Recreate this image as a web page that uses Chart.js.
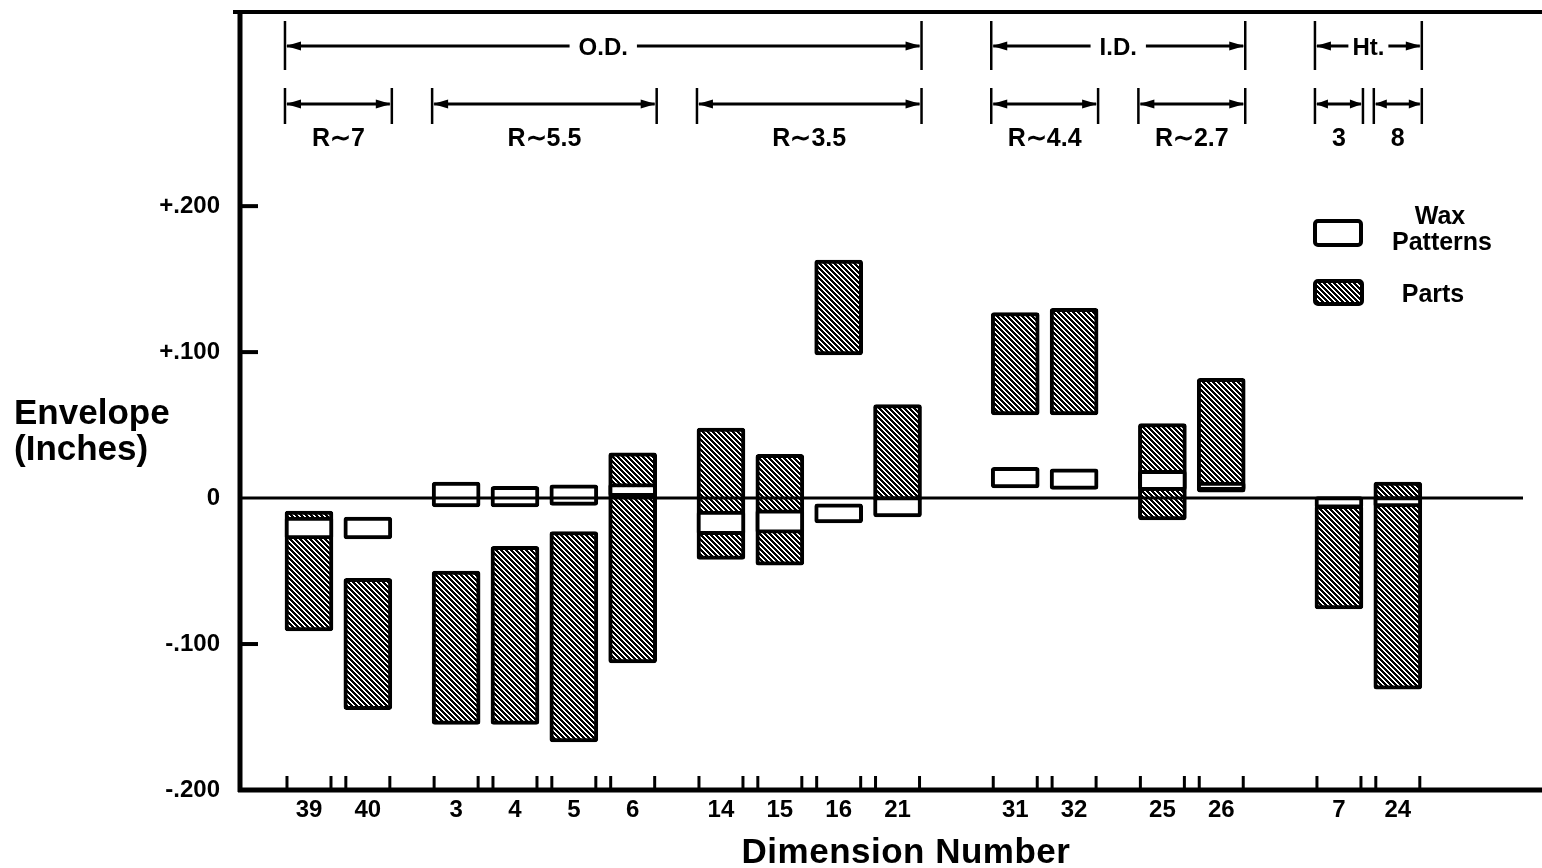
<!DOCTYPE html>
<html><head><meta charset="utf-8">
<script src="https://cdn.jsdelivr.net/npm/chart.js@4/dist/chart.umd.min.js"></script>
<style>html,body{margin:0;padding:0;background:#fff;}#wrap{width:1542px;height:868px;position:relative;}</style>
</head><body><div id="wrap"><canvas id="c" width="1542" height="868"></canvas></div>
<script>
// ---------------- DATA ----------------
const dimensions = ['39','40','3','4','5','6','14','15','16','21','31','32','25','26','7','24'];
const waxLow    = [-0.028,-0.028,-0.006,-0.006,-0.005, 0.001,-0.025,-0.024,-0.017,-0.013, 0.007, 0.006, 0.005, 0.005,-0.007,-0.006];
const waxHigh   = [-0.013,-0.013, 0.011, 0.008, 0.009, 0.010,-0.009,-0.008,-0.004, 0.001, 0.021, 0.020, 0.019, 0.011, 0.001, 0.001];
const partsLow  = [-0.091,-0.145,-0.155,-0.155,-0.167,-0.113,-0.042,-0.046, 0.098,-0.002, 0.057, 0.057,-0.015, 0.004,-0.076,-0.131];
const partsHigh = [-0.009,-0.055,-0.050,-0.033,-0.023, 0.031, 0.048, 0.030, 0.163, 0.064, 0.127, 0.130, 0.051, 0.082,-0.005, 0.011];
const yTickValues = [-0.2, -0.1, 0, 0.1, 0.2];
const yTickLabels = ['-.200', '-.100', '0', '+.100', '+.200'];
const seriesNames = ['Wax Patterns', 'Parts'];
// dimension ranges labelled above the plot
const spanTexts = ['O.D.', 'I.D.', 'Ht.', 'R∼7', 'R∼5.5', 'R∼3.5', 'R∼4.4', 'R∼2.7', '3', '8'];
const spanFrom  = ['39', '31', '7', '39', '3', '14', '31', '25', '7', '24'];
const spanTo    = ['21', '26', '24', '40', '6', '21', '32', '26', '7', '24'];
const spanRow   = [0, 0, 0, 1, 1, 1, 1, 1, 1, 1];

// ---------------- LAYOUT ----------------
const extraGapBefore = {'3':0.5, '14':0.5, '31':1, '25':0.5, '7':1};
const positions = [];
{ let p = 0; dimensions.forEach((d, i) => { if (i > 0) p += 1 + (extraGapBefore[d] || 0); positions.push(p); }); }
const FONT = 'Liberation Sans, Arial, Helvetica, sans-serif';
const BAR_W = 48;

const canvas = document.getElementById('c');
const ctx0 = canvas.getContext('2d');
function makeHatch() {
  const n = 5;
  const c = document.createElement('canvas'); c.width = n; c.height = n;
  const g = c.getContext('2d');
  g.fillStyle = '#fff'; g.fillRect(0, 0, n, n);
  g.fillStyle = '#000';
  for (let yy = 0; yy < n; yy++) for (let xx = 0; xx < n; xx++) {
    if ((((xx - yy) % n) + n) % n < 3) g.fillRect(xx, yy, 1, 1);
  }
  return ctx0.createPattern(c, 'repeat');
}
const hatch = makeHatch();

const waxData = dimensions.map((d, i) => ({x: positions[i], y: [waxLow[i], waxHigh[i]]}));
const partsData = dimensions.map((d, i) => ({x: positions[i], y: [partsLow[i], partsHigh[i]]}));

function hline(ctx, x1, x2, y) { ctx.beginPath(); ctx.moveTo(x1, y); ctx.lineTo(x2, y); ctx.stroke(); }
function vline(ctx, x, y1, y2) { ctx.beginPath(); ctx.moveTo(x, y1); ctx.lineTo(x, y2); ctx.stroke(); }
function head(ctx, tipX, y, dir, len, hw) {
  ctx.beginPath(); ctx.moveTo(tipX, y); ctx.lineTo(tipX + dir * len, y - hw); ctx.lineTo(tipX + dir * len, y + hw); ctx.closePath(); ctx.fill();
}

const decor = {
  id: 'decor',
  afterDatasetsDraw(chart) {
    const {ctx, chartArea: a, scales: {x, y}} = chart;
    ctx.save();
    ctx.strokeStyle = '#000'; ctx.fillStyle = '#000';
    // zero line
    ctx.lineWidth = 3;
    hline(ctx, a.left, 1523, y.getPixelForValue(0));
    // frame
    ctx.lineWidth = 4; hline(ctx, a.left - 7, a.right, a.top);
    ctx.lineWidth = 5; vline(ctx, a.left, a.top - 2, a.bottom + 2);
    hline(ctx, a.left - 2, a.right, a.bottom);
    // y ticks (inside)
    ctx.lineWidth = 4;
    yTickValues.forEach(v => { if (v !== 0 && v > y.min) hline(ctx, a.left, a.left + 18, y.getPixelForValue(v)); });
    // x ticks at bar edges (inside)
    ctx.lineWidth = 3;
    positions.forEach(p => {
      const c = x.getPixelForValue(p);
      vline(ctx, c - BAR_W / 2 + 2, a.bottom - 14, a.bottom);
      vline(ctx, c + BAR_W / 2 - 2, a.bottom - 14, a.bottom);
    });
    // span annotations
    const rowLineY = [46, 104], rowBar = [[21, 70], [88, 124]];
    spanTexts.forEach((t, i) => {
      const r = spanRow[i];
      const L = x.getPixelForValue(positions[dimensions.indexOf(spanFrom[i])]) - BAR_W / 2;
      const R = x.getPixelForValue(positions[dimensions.indexOf(spanTo[i])]) + BAR_W / 2;
      ctx.lineWidth = 2.5;
      vline(ctx, L, rowBar[r][0], rowBar[r][1]);
      vline(ctx, R, rowBar[r][0], rowBar[r][1]);
      const ly = rowLineY[r];
      const len = Math.min(15, (R - L) / 4), hw = 4.5;
      ctx.lineWidth = 3;
      ctx.font = 'bold 24px ' + FONT;
      ctx.textAlign = 'center'; ctx.textBaseline = 'alphabetic';
      const cx = (L + R) / 2;
      if (r === 0) {
        const tw = ctx.measureText(t).width;
        const gap = t === 'Ht.' ? 4 : 9;
        hline(ctx, L + 2, cx - tw / 2 - gap, ly);
        hline(ctx, cx + tw / 2 + gap, R - 2, ly);
        ctx.fillText(t, cx, ly + 9);
      } else {
        hline(ctx, L + 2, R - 2, ly);
        ctx.font = 'bold 25px ' + FONT;
        ctx.fillText(t, cx, 146);
      }
      head(ctx, L + 1, ly, 1, len, hw);
      head(ctx, R - 1, ly, -1, len, hw);
    });
    // legend
    ctx.lineWidth = 4;
    ctx.fillStyle = '#fff';
    ctx.beginPath(); ctx.roundRect(1315, 221, 46, 24, 3); ctx.fill(); ctx.stroke();
    ctx.fillStyle = hatch;
    ctx.beginPath(); ctx.roundRect(1315, 281, 47, 23, 3); ctx.fill(); ctx.stroke();
    ctx.fillStyle = '#000';
    ctx.font = 'bold 25px ' + FONT; ctx.textAlign = 'center';
    const wp = seriesNames[0].split(' ');
    ctx.fillText(wp[0], 1440, 224);
    ctx.fillText(wp[1], 1442, 250);
    ctx.fillText(seriesNames[1], 1433, 302);
    // axis titles
    ctx.textAlign = 'left';
    ctx.font = 'bold 35px ' + FONT;
    ctx.fillText('Envelope', 14, 424);
    ctx.fillText('(Inches)', 14, 460);
    ctx.textAlign = 'center';
    ctx.font = 'bold 35px ' + FONT;
    try { ctx.letterSpacing = '0.5px'; } catch (e) {}
    ctx.fillText('Dimension Number', 906, 863);
    try { ctx.letterSpacing = '0px'; } catch (e) {}
    ctx.restore();
  }
};

new Chart(canvas, {
  type: 'bar',
  data: {
    datasets: [
      {label: seriesNames[0], data: waxData, backgroundColor: '#fff', borderColor: '#000', borderWidth: 4, borderSkipped: false, borderRadius: 3, order: 0},
      {label: seriesNames[1], data: partsData, backgroundColor: hatch, borderColor: '#000', borderWidth: 4, borderSkipped: false, borderRadius: 3, order: 1}
    ]
  },
  options: {
    responsive: false, animation: false, devicePixelRatio: 1, events: [],
    layout: {padding: {top: 12, left: 0, right: 0, bottom: 0}},
    datasets: {bar: {grouped: false, barThickness: BAR_W}},
    plugins: {legend: {display: false}, tooltip: {enabled: false}},
    scales: {
      x: {
        type: 'linear', min: -1.172, max: 20.95, offset: false,
        grid: {display: false, drawTicks: false}, border: {display: false},
        afterBuildTicks: s => { s.ticks = positions.map(p => ({value: p})); },
        afterFit: s => { s.height = 78; s.paddingLeft = 0; s.paddingRight = 0; },
        ticks: {autoSkip: false, maxRotation: 0, padding: 6, color: '#000',
          font: {family: FONT, size: 24, weight: 'bold'},
          callback: (v, i) => dimensions[i]}
      },
      y: {
        type: 'linear', min: -0.2, max: 0.333, beginAtZero: false,
        grid: {display: false, drawTicks: false}, border: {display: false},
        afterBuildTicks: s => { s.ticks = yTickValues.map(v => ({value: v})); },
        afterFit: s => { s.width = 240; s.paddingTop = 0; s.paddingBottom = 0; },
        ticks: {padding: 20, color: '#000', font: {family: FONT, size: 24, weight: 'bold'},
          callback: (v, i) => yTickLabels[i]}
      }
    }
  },
  plugins: [decor]
});
</script>
</body></html>
